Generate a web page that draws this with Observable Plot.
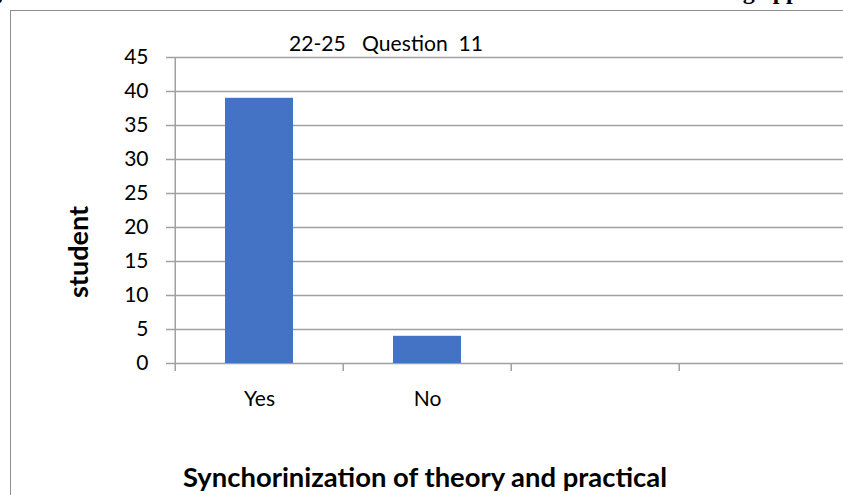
<!DOCTYPE html>
<html><head><meta charset="utf-8">
<script src="https://cdn.jsdelivr.net/npm/d3@7"></script>
<script src="https://cdn.jsdelivr.net/npm/@observablehq/plot@0.6"></script>
<style>
html,body{margin:0;padding:0;background:#fff;overflow:hidden;width:843px;height:495px;}
#wrap{position:relative;width:843px;height:495px;overflow:hidden;background:#fff;}
#frame{position:absolute;left:10px;top:10px;width:900px;height:600px;border-left:1px solid #8e8e8e;border-top:1px solid #8e8e8e;}
#chart{position:absolute;left:0;top:0;width:860px;height:495px;}
</style></head><body>
<div id="wrap"><div id="frame"></div><div id="chart"></div></div>
<script>
// ---- data ----
const categories = ["Yes", "No", "slot3", "slot4"];
const categoryLabels = ["Yes", "No", "", ""];
const students = [39, 4, null, null];
const yTicks = [0, 5, 10, 15, 20, 25, 30, 35, 40, 45];
const chartTitle = "22-25   Question  11";
const xTitle = "Synchorinization of theory and practical";
const yTitle = "student";

// ---- layout ----
const W = 860, H = 495, mL = 174, mR = 12, mT = 57, mB = 132;
const step = (W - mL - mR) / categories.length;
const gridColor = "#a0a0a0";

const data = categories
  .map((c, i) => ({category: c, students: students[i]}))
  .filter(d => d.students != null);

const plot = Plot.plot({
  width: W, height: H,
  marginLeft: mL, marginRight: mR, marginTop: mT, marginBottom: mB,
  style: {fontFamily: "Lato, sans-serif", fontSize: "21px", color: "#000", background: "transparent", maxWidth: "none", overflow: "visible"},
  x: {type: "band", domain: categories, paddingInner: 0.595, paddingOuter: 0.2975},
  y: {domain: [0, 45]},
  marks: [
    Plot.ruleY(yTicks, {stroke: gridColor, strokeWidth: 1.5}),
    Plot.barY(data, {x: "category", y: "students", fill: "#4472C4"}),
    Plot.ruleX([categories[0]], {x: d => d, dx: -step / 2, y1: 0, y2: 45, stroke: gridColor, strokeWidth: 1.5}),
    Plot.axisY({ticks: yTicks, tickSize: 8, tickPadding: 18, stroke: gridColor, strokeWidth: 1.5, label: null, fontSize: 21}),
    Plot.axisX({ticks: categories, tickSize: 8, tickFormat: () => "", dx: -step / 2, stroke: gridColor, strokeWidth: 1.5, label: null}),
    Plot.axisX({ticks: categories, tickSize: 0, tickPadding: 28, label: null, fontSize: 21,
      tickFormat: d => categoryLabels[categories.indexOf(d)]})
  ]
});
document.getElementById("chart").appendChild(plot);

// ---- titles ----
const svg = d3.select(plot);
svg.append("text")
  .attr("x", 386).attr("y", 51).attr("text-anchor", "middle")
  .attr("textLength", 194).attr("lengthAdjust", "spacingAndGlyphs")
  .style("font", "400 22px Lato, sans-serif").style("white-space", "pre").attr("fill", "#000")
  .text(chartTitle);
svg.append("text")
  .attr("transform", "translate(88,252) rotate(-90)").attr("text-anchor", "middle")
  .attr("textLength", 92).attr("lengthAdjust", "spacingAndGlyphs")
  .style("font", "700 26px Lato, sans-serif").attr("fill", "#000")
  .text(yTitle);
svg.append("text")
  .attr("x", 425).attr("y", 487).attr("text-anchor", "middle")
  .attr("textLength", 484).attr("lengthAdjust", "spacingAndGlyphs")
  .style("font", "700 26px Lato, sans-serif").attr("fill", "#000")
  .text(xTitle);
// clipped heading line of the surrounding document (only descenders visible in the reference)
svg.append("text").attr("x", -4).attr("y", -1)
  .style("font", "700 24px 'Liberation Serif', serif").attr("fill", "#000").text("g");
svg.append("text").attr("x", 771).attr("y", -1)
  .style("font", "700 24px 'Liberation Serif', serif").attr("fill", "#000").text("g app");
</script>
</body></html>
